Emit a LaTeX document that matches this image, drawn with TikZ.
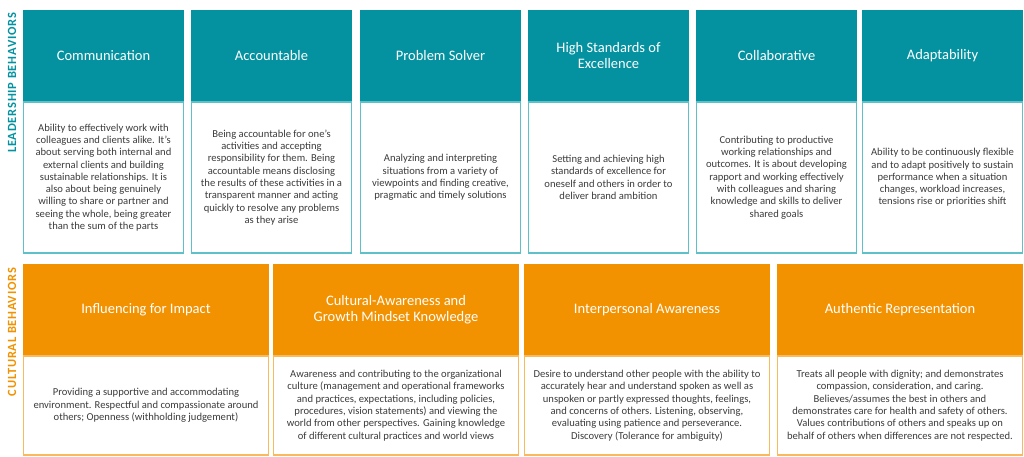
\documentclass[tikz,border=0pt]{standalone}
\usepackage{fontspec}
\setmainfont{Carlito}
\usetikzlibrary{positioning}
\definecolor{tealhead}{RGB}{5,146,160}
\definecolor{tealline}{RGB}{95,192,202}
\definecolor{orangehead}{RGB}{242,146,0}
\definecolor{orangeline}{RGB}{247,186,92}
\definecolor{bodytext}{RGB}{60,60,60}
\begin{document}
\begin{tikzpicture}[
    x=1pt, y=-1pt,
    every node/.style={align=center, inner sep=2pt, outer sep=0pt},
    head/.style={anchor=north west, minimum height=92pt, text=white, font=\fontsize{14.5}{16}\selectfont},
    tealhd/.style={head, fill=tealhead, minimum width=161pt},
    orangehd/.style={head, fill=orangehead, minimum width=246pt},
    desc/.style={fill=white, line width=1.2pt, text=bodytext, font=\fontsize{10.6}{12.3}\selectfont},
    tealtxt/.style={desc, draw=tealline, minimum width=159.8pt, minimum height=151pt},
    orangetxt/.style={desc, draw=orangeline, minimum width=244.8pt, minimum height=99pt},
    sidelabel/.style={rotate=90, anchor=east, font=\fontsize{12.5}{14}\selectfont\bfseries\addfontfeatures{LetterSpace=6}}
]
\useasboundingbox (0,0) rectangle (1024,456);
% leadership row
\node[sidelabel, text=tealhead] (lead) at (12,11) {LEADERSHIP BEHAVIORS};
\node[tealhd] (comm) at (23,10) {Communication};
\node[tealtxt, below=0pt of comm] (commtxt) {Ability to effectively work with\\ colleagues and clients alike. It's\\ about serving both internal and\\ external clients and building\\ sustainable relationships. It is\\ also about being genuinely\\ willing to share or partner and\\ seeing the whole, being greater\\ than the sum of the parts};
\node[tealhd] (acc) at (191,10) {Accountable};
\node[tealtxt, below=0pt of acc] (acctxt) {Being accountable for one's\\ activities and accepting\\ responsibility for them. Being\\ accountable means disclosing\\ the results of these activities in a\\ transparent manner and acting\\ quickly to resolve any problems\\ as they arise};
\node[tealhd] (solver) at (360,10) {Problem Solver};
\node[tealtxt, below=0pt of solver] (solvertxt) {Analyzing and interpreting\\ situations from a variety of\\ viewpoints and finding creative,\\ pragmatic and timely solutions};
\node[tealhd] (excel) at (528,10) {High Standards of\\ Excellence};
\node[tealtxt, below=0pt of excel] (exceltxt) {Setting and achieving high\\ standards of excellence for\\ oneself and others in order to\\ deliver brand ambition};
\node[tealhd] (collab) at (696,10) {Collaborative};
\node[tealtxt, below=0pt of collab] (collabtxt) {Contributing to productive\\ working relationships and\\ outcomes. It is about developing\\ rapport and working effectively\\ with colleagues and sharing\\ knowledge and skills to deliver\\ shared goals};
\node[tealhd] (adapt) at (862,10) {Adaptability};
\node[tealtxt, below=0pt of adapt] (adapttxt) {Ability to be continuously flexible\\ and to adapt positively to sustain\\ performance when a situation\\ changes, workload increases,\\ tensions rise or priorities shift};
% cultural row
\node[sidelabel, text=orangehead] (cult) at (12,266) {CULTURAL BEHAVIORS};
\node[orangehd] (impact) at (23,264) {Influencing for Impact};
\node[orangetxt, below=0pt of impact] (impacttxt) {Providing a supportive and accommodating\\ environment. Respectful and compassionate around\\ others; Openness (withholding judgement)};
\node[orangehd] (growth) at (273,264) {Cultural-Awareness and\\ Growth Mindset Knowledge};
\node[orangetxt, below=0pt of growth] (growthtxt) {Awareness and contributing to the organizational\\ culture (management and operational frameworks\\ and practices, expectations, including policies,\\ procedures, vision statements) and viewing the\\ world from other perspectives. Gaining knowledge\\ of different cultural practices and world views};
\node[orangehd] (inter) at (524,264) {Interpersonal Awareness};
\node[orangetxt, below=0pt of inter] (intertxt) {Desire to understand other people with the ability to\\ accurately hear and understand spoken as well as\\ unspoken or partly expressed thoughts, feelings,\\ and concerns of others. Listening, observing,\\ evaluating using patience and perseverance.\\ Discovery (Tolerance for ambiguity)};
\node[orangehd] (auth) at (777,264) {Authentic Representation};
\node[orangetxt, below=0pt of auth] (authtxt) {Treats all people with dignity; and demonstrates\\ compassion, consideration, and caring.\\ Believes/assumes the best in others and\\ demonstrates care for health and safety of others.\\ Values contributions of others and speaks up on\\ behalf of others when differences are not respected.};
\end{tikzpicture}
\end{document}
